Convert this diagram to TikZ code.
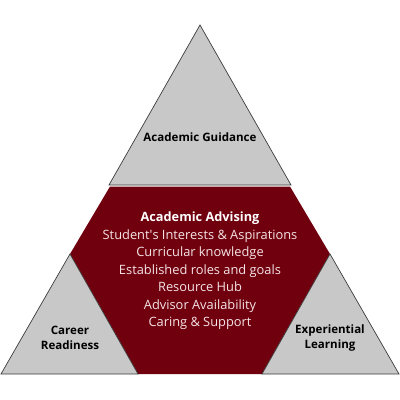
\documentclass[tikz,border=0pt]{standalone}
\usepackage{fontspec}
\setmainfont{Open Sans}

\definecolor{advred}{RGB}{112,0,14}
\definecolor{sidegray}{RGB}{200,200,200}
\definecolor{edgegray}{RGB}{60,60,60}
\definecolor{softwhite}{RGB}{245,228,230}

\begin{document}
\begin{tikzpicture}[x=1bp, y=-1bp,
    side/.style={fill=sidegray, draw=edgegray, line width=0.7bp, line join=miter},
    core/.style={fill=advred},
    label/.style={font=\bfseries\fontsize{11.6}{15.5}\selectfont, align=center, text=black},
    head/.style={font=\bfseries\fontsize{12.8}{17.4}\selectfont, text=white, text height=9bp, text depth=3bp},
    item/.style={font=\fontsize{12.9}{17.4}\selectfont, text=softwhite, text height=9bp, text depth=3bp}]
    \useasboundingbox (0,0) rectangle (400,400);

    % corners
    \coordinate (apex) at (200,25);
    \coordinate (gl) at (109,185);
    \coordinate (gr) at (291,185);
    \coordinate (cl) at (110,186.5);
    \coordinate (cr) at (290,186.5);
    \coordinate (la) at (70,254);
    \coordinate (ra) at (330,254);
    \coordinate (bl) at (1,374);
    \coordinate (lb) at (138,374);
    \coordinate (rb) at (262,374);
    \coordinate (br) at (399,374);

    % middle
    \fill[core] (cl) -- (cr) -- (ra) -- (rb) -- (lb) -- (la) -- cycle;

    % three grey corners
    \draw[side] (apex) -- (gl) -- (gr) -- cycle;
    \draw[side] (la) -- (bl) -- (lb) -- cycle;
    \draw[side] (ra) -- (rb) -- (br) -- cycle;

    \node[label] (guidance) at (200,137) {Academic Guidance};
    \node[label] (career) at (70,338) {Career\\Readiness};
    \node[label] (learning) at (330,338) {Experiential\\Learning};

    \node[head] (advising) at (200,218.5) {Academic Advising};
    \node[item] (interests) at (200,236) {Student\textquotesingle s Interests \& Aspirations};
    \node[item] (knowledge) at (200,253.5) {Curricular knowledge};
    \node[item] (roles) at (200,271) {Established roles and goals};
    \node[item] (hub) at (200,288.5) {Resource Hub};
    \node[item] (availability) at (200,306) {Advisor Availability};
    \node[item] (support) at (200,323) {Caring \& Support};
\end{tikzpicture}
\end{document}
